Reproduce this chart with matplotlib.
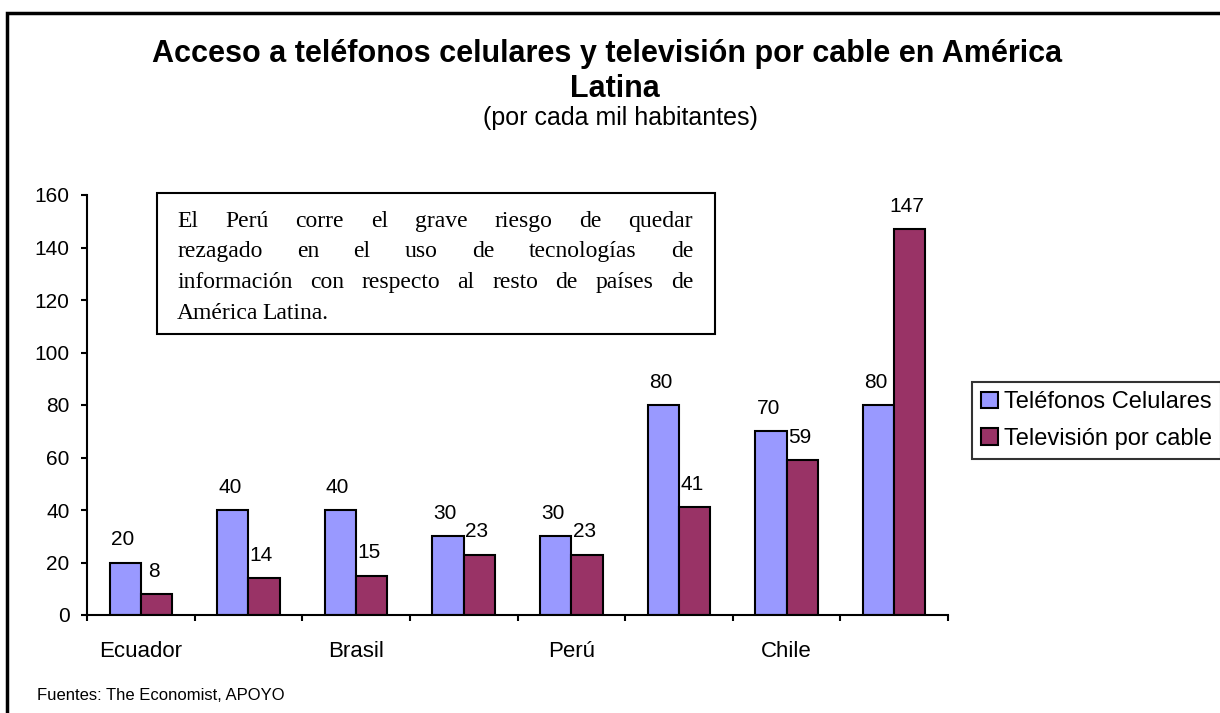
import numpy as np
import matplotlib.pyplot as plt
from matplotlib.patches import Rectangle, Patch

# datos por país (por cada mil habitantes)
paises = ["Ecuador", "", "Brasil", "", "Perú", "", "Chile", ""]
celulares = [20, 40, 40, 30, 30, 80, 70, 80]
cable = [8, 14, 15, 23, 23, 41, 59, 147]
series = ["Teléfonos Celulares", "Televisión por cable"]
colores = ["#9999FF", "#993366"]

nota = ["El Perú corre el grave riesgo de quedar",
        "rezagado en el uso de tecnologías de",
        "información con respecto al resto de países de",
        "América Latina."]

W, H = 1220, 713
plt.rcParams['font.family'] = ['Liberation Sans', 'DejaVu Sans']

fig = plt.figure(figsize=(W / 100, H / 100), dpi=100)
ax = fig.add_axes([87 / W, 98 / H, (948 - 87) / W, 420 / H])

x = np.arange(len(paises))
w = 0.29
ax.bar(x - w / 2, celulares, w, color=colores[0], edgecolor='black', lw=1.5)
ax.bar(x + w / 2, cable, w, color=colores[1], edgecolor='black', lw=1.5)

for xi, v in zip(x, celulares):
    ax.annotate(str(v), (xi - w / 2, v), xytext=(-2, 12.5), textcoords='offset points',
                ha='center', va='baseline', fontsize=15)
for xi, v in zip(x, cable):
    ax.annotate(str(v), (xi + w / 2, v), xytext=(-2, 12.5), textcoords='offset points',
                ha='center', va='baseline', fontsize=15)

ax.set_xlim(-0.5, len(paises) - 0.5)
ax.set_ylim(0, 160)
ax.set_yticks(np.arange(0, 161, 20))
ax.set_xticks(x)
ax.set_xticklabels(paises)
ax.set_xticks(np.arange(-0.5, len(paises), 1), minor=True)
ax.tick_params(axis='x', which='major', length=0, pad=19, labelsize=16)
ax.tick_params(axis='x', which='minor', length=4.5, width=1.5, direction='out')
ax.tick_params(axis='y', length=4.5, width=1.5, pad=8, labelsize=15)
for s in ['top', 'right']:
    ax.spines[s].set_visible(False)
for s in ['left', 'bottom']:
    ax.spines[s].set_linewidth(1.5)

# títulos
fig.text(607 / W, 1 - 62 / H, "Acceso a teléfonos celulares y televisión por cable en América",
         ha='center', va='baseline', fontsize=22, fontweight='bold')
fig.text(615 / W, 1 - 97 / H, "Latina", ha='center', va='baseline', fontsize=22, fontweight='bold')
fig.text(620 / W, 1 - 125 / H, "(por cada mil habitantes)", ha='center', va='baseline', fontsize=18)

# recuadro con la nota, texto justificado
fig.patches.append(Rectangle((157 / W, 1 - 334 / H), (715 - 157) / W, (334 - 193) / H,
                             transform=fig.transFigure, fill=True, facecolor='white',
                             edgecolor='black', lw=1.5, zorder=3))
renderer = fig.canvas.get_renderer()
x0, x1 = 177, 693
for i, linea in enumerate(nota):
    y = 1 - (227 + 30.5 * i) / H
    palabras = linea.split()
    textos = [fig.text(0, y, p, fontsize=17, family='Liberation Serif', va='baseline', zorder=4)
              for p in palabras]
    anchos = [t.get_window_extent(renderer).width for t in textos]
    if i < len(nota) - 1:
        hueco = (x1 - x0 - sum(anchos)) / (len(palabras) - 1)
    else:
        hueco = 4
    pos = x0
    for t, a in zip(textos, anchos):
        t.set_x(pos / W)
        pos += a + hueco

# leyenda
handles = [Patch(facecolor=c, edgecolor='black', lw=1.5) for c in colores]
leg = fig.legend(handles, series, loc='upper left', bbox_to_anchor=(972 / W, 1 - 382 / H),
                 borderaxespad=0, fontsize=17, fancybox=False, edgecolor='black',
                 handlelength=0.7, handleheight=0.7, handletextpad=0.25,
                 borderpad=0.4, labelspacing=0.6)
leg.get_frame().set_linewidth(1.5)

fig.text(37 / W, 1 - 700 / H, "Fuentes: The Economist, APOYO", fontsize=12, va='baseline')

# marco exterior
fig.patches.append(Rectangle((7 / W, -0.1), 2, 1.1 - 13 / H, transform=fig.transFigure,
                             fill=False, edgecolor='black', lw=2.5))

fig.savefig('out.png', dpi=100)
